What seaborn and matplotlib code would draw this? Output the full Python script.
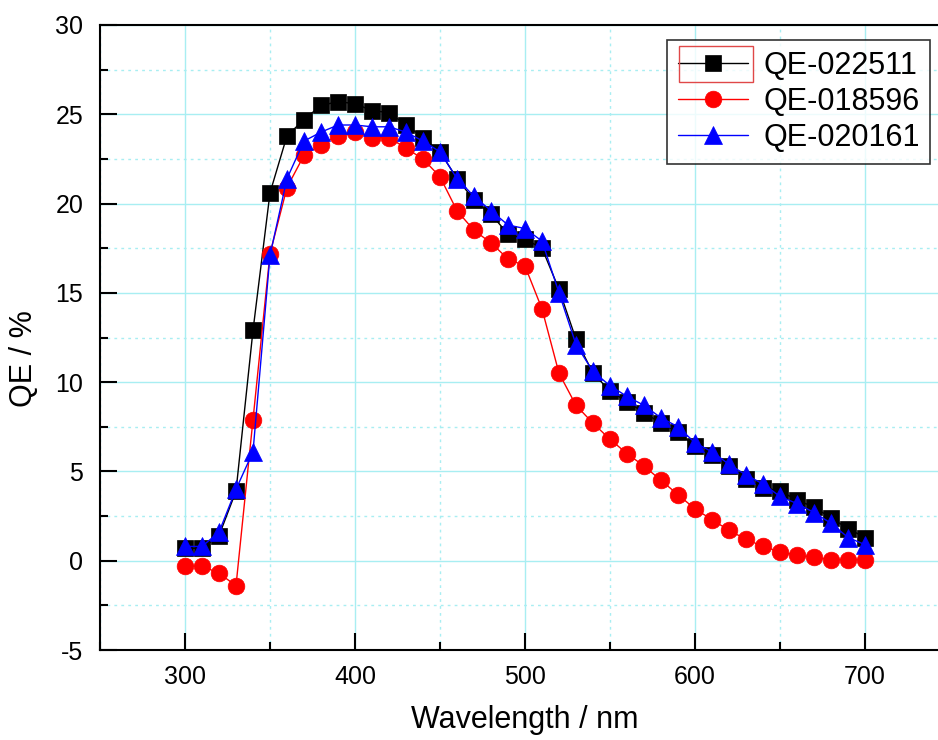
import matplotlib
matplotlib.use("Agg")
import matplotlib.pyplot as plt
import seaborn as sns
import numpy as np
import pandas as pd
from matplotlib.ticker import MultipleLocator
from matplotlib.patches import Rectangle

wavelength = list(range(300, 701, 10))

qe_022511 = [0.7, 0.7, 1.4, 3.9, 12.9, 20.6, 23.8, 24.7, 25.5, 25.7, 25.6, 25.2, 25.1,
             24.4, 23.7, 22.9, 21.4, 20.2, 19.4, 18.3, 18.0, 17.5, 15.2, 12.4, 10.5,
             9.5, 8.9, 8.3, 7.7, 7.2, 6.4, 5.9, 5.3, 4.6, 4.1, 3.9, 3.4, 3.0, 2.4, 1.8, 1.3]
qe_018596 = [-0.3, -0.3, -0.7, -1.4, 7.9, 17.2, 20.9, 22.7, 23.3, 23.8, 24.0, 23.7, 23.7,
             23.1, 22.5, 21.5, 19.6, 18.5, 17.8, 16.9, 16.5, 14.1, 10.5, 8.7, 7.7,
             6.8, 6.0, 5.3, 4.5, 3.7, 2.9, 2.3, 1.7, 1.2, 0.8, 0.5, 0.3, 0.2, 0.05, 0.05, 0.05]
qe_020161 = [0.8, 0.8, 1.6, 4.0, 6.1, 17.1, 21.4, 23.5, 24.0, 24.4, 24.4, 24.3, 24.3,
             24.0, 23.5, 22.9, 21.4, 20.4, 19.6, 18.8, 18.6, 17.9, 15.0, 12.1, 10.6,
             9.8, 9.2, 8.7, 8.0, 7.5, 6.6, 6.1, 5.4, 4.8, 4.3, 3.6, 3.2, 2.7, 2.1, 1.3, 0.9]

series_names = ["QE-022511", "QE-018596", "QE-020161"]
series_values = [qe_022511, qe_018596, qe_020161]
colors = ["black", "red", "blue"]
markers = ["s", "o", "^"]
msizes = [11, 12, 13]

sns.set_style("white")
plt.rcParams["font.family"] = ["Liberation Sans", "DejaVu Sans"]
plt.rcParams["axes.unicode_minus"] = False
plt.rcParams["text.color"] = "black"
plt.rcParams["xtick.color"] = "black"
plt.rcParams["ytick.color"] = "black"
plt.rcParams["axes.labelcolor"] = "black"

fig = plt.figure(figsize=(9.38, 7.40), dpi=100)
ax = fig.add_axes([100 / 938, 90 / 740, 850 / 938, 625 / 740])

for name, vals, c, m, ms in zip(series_names, series_values, colors, markers, msizes):
    df = pd.DataFrame({"Wavelength": wavelength, "QE": vals})
    sns.lineplot(data=df, x="Wavelength", y="QE", ax=ax, color=c, marker=m,
                 markersize=ms, markeredgecolor=c, markeredgewidth=0.5,
                 linewidth=1.0, label=name, zorder=3)

ax.set_xlim(250, 750)
ax.set_ylim(-5, 30)
ax.xaxis.set_major_locator(MultipleLocator(100))
ax.xaxis.set_minor_locator(MultipleLocator(50))
ax.yaxis.set_major_locator(MultipleLocator(5))
ax.yaxis.set_minor_locator(MultipleLocator(2.5))
ax.set_xticks([300, 400, 500, 600, 700])

ax.grid(True, which="major", color="#a8eef2", linestyle="-", linewidth=1.0, zorder=0)
ax.grid(True, which="minor", color="#a8eef2", linestyle=(0, (2, 3)), linewidth=1.0, zorder=0)
ax.set_axisbelow(True)

ax.tick_params(axis="both", which="major", direction="in", length=12, width=1.5,
               labelsize=18, bottom=True, left=True, top=False, right=False)
ax.tick_params(axis="x", which="major", pad=11)
ax.tick_params(axis="y", which="major", pad=12)
ax.tick_params(axis="both", which="minor", direction="in", length=6, width=1.5,
               bottom=True, left=True, top=False, right=False)
for s in ax.spines.values():
    s.set_linewidth(1.5)
    s.set_color("black")

ax.set_xlabel("Wavelength / nm", fontsize=22)
ax.set_ylabel("QE / %", fontsize=22)
ax.xaxis.set_label_coords(0.5, -0.088)
ax.yaxis.set_label_coords(-0.072, 0.467)

leg = ax.legend(loc="upper left", bbox_to_anchor=((667 - 100) / 850, 1 - 15 / 625),
                fontsize=22, frameon=True, fancybox=False, edgecolor="black",
                handlelength=2.3, borderpad=0.35, labelspacing=0.2, handletextpad=0.5,
                borderaxespad=0.0)
leg.get_frame().set_linewidth(1.2)

# red outline around the first legend handle, as in the reference
fig.patches.append(Rectangle((679 / 938, 1 - 82 / 740), 74 / 938, 36 / 740,
                             transform=fig.transFigure, fill=False,
                             edgecolor="#e04848", linewidth=1.0, zorder=10))

fig.savefig("out.png", dpi=100)
